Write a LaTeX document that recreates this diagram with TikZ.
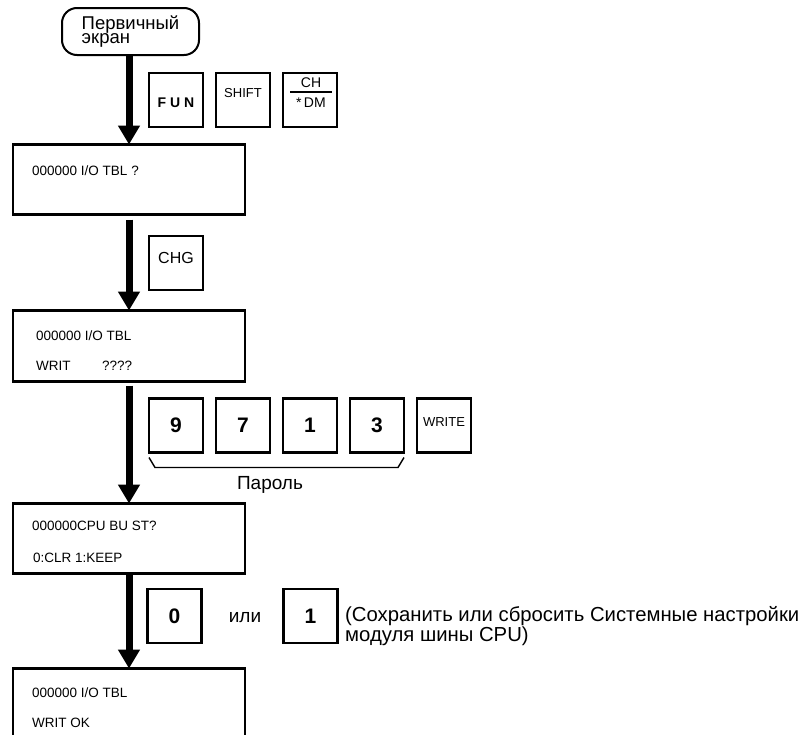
\documentclass[tikz,border=0pt]{standalone}
\usepackage{fontspec}
\setmainfont{Liberation Sans}
\usetikzlibrary{positioning,arrows.meta,calc}

\begin{document}
\begin{tikzpicture}[x=1pt,y=-1pt,
  screen/.style={draw, line width=2.6pt, minimum width=232pt, minimum height=70pt, inner sep=0pt, outer sep=0pt},
  key/.style={draw, line width=2.4pt, minimum size=54pt, inner sep=0pt, outer sep=0pt, font=\fontsize{13}{15}\selectfont},
  digit/.style={key, font=\bfseries\fontsize{21}{23}\selectfont},
  lcd/.style={anchor=west, inner sep=0pt, font=\fontsize{13.5}{15}\selectfont},
  note/.style={inner sep=0pt, font=\fontsize{19}{20}\selectfont},
  flow/.style={line width=7pt, -{Triangle[width=21pt,length=19pt]}}
]
\useasboundingbox (0,0) rectangle (805,734);
\clip (0,0) rectangle (805,734);

\node[draw, line width=2pt, rounded corners=15pt, minimum width=137pt, minimum height=47pt, inner sep=0pt,
  align=left, font=\fontsize{18.5}{13}\selectfont] (start) at (130.5,31.5) {Первичный\\экран};

% LCD screens
\node[screen] (b1) at (129,179.5) {};
\node[screen, below=96pt of b1, minimum height=71pt] (b2) {};
\node[screen, below=122pt of b2] (b3) {};
\node[screen, below=95pt of b3] (b4) {};

\node[lcd] (t1) at ($(b1.north west)+(19,26)$) {000000 I/O TBL ?};
\node[lcd] (t2a) at ($(b2.north west)+(23,25)$) {000000 I/O TBL};
\node[lcd] (t2b) at ($(b2.north west)+(23,55)$) {WRIT};
\node[lcd] (t2c) at ($(b2.north west)+(89,55)$) {????};
\node[lcd] (t3a) at ($(b3.north west)+(19,22)$) {000000CPU BU ST?};
\node[lcd] (t3b) at ($(b3.north west)+(20,54)$) {0:CLR 1:KEEP};
\node[lcd] (t4a) at ($(b4.north west)+(19,24)$) {000000 I/O TBL};
\node[lcd] (t4b) at ($(b4.north west)+(19,54)$) {WRIT OK};

\draw[flow] (start.south -| b1.north) -- (b1.north);
\draw[flow] ([yshift=-5pt]b1.south) -- (b2.north);
\draw[flow] ([yshift=-4pt]b2.south) -- (b3.north);
\draw[flow] (b3.south) -- (b4.north);

% keys
\node[key, font=\bfseries\fontsize{14}{15}\selectfont, text height=16pt] (fun) at (176,100) {F U N};
\node[key, right=13pt of fun, text depth=14pt] (shift) {SHIFT};
\node[key, right=13pt of shift] (chdm) {};
\node[font=\fontsize{14}{15}\selectfont] (ch) at ($(chdm.center)+(1,-17)$) {CH};
\draw[line width=2pt] ($(chdm.center)+(-20,-8)$) -- ($(chdm.center)+(22,-8)$);
\node[font=\fontsize{14}{15}\selectfont] (dm) at ($(chdm.center)+(1,3)$) {*\,DM};

\node[key, font=\fontsize{16}{18}\selectfont, text depth=10pt] (chg) at (176,263) {CHG};

\node[digit] (k9) at (176,425.5) {9};
\node[digit, right=13pt of k9] (k7) {7};
\node[digit, right=13pt of k7] (k1) {1};
\node[digit, right=13pt of k1] (k3) {3};
\node[key, right=13pt of k3, text depth=6pt] (write) {WRITE};
\draw[line width=1.4pt] ($(k9.south west)+(0,5)$) -- ++(6,10) -- ($(k3.south east)+(-6,15)$) -- ++(6,-10);
\node[note] (pw) at (270,485) {Пароль};

\node[digit] (k0) at (174.5,616) {0};
\node[note] (or) at (245,618) {или};
\node[digit] (kk1) at (310.5,616) {1};
\node[note, anchor=base west, align=left, font=\fontsize{20.3}{20}\selectfont] (hint) at (345,641)
  {(Сохранить или сбросить Системные настройки\\модуля шины CPU)};
\end{tikzpicture}
\end{document}
